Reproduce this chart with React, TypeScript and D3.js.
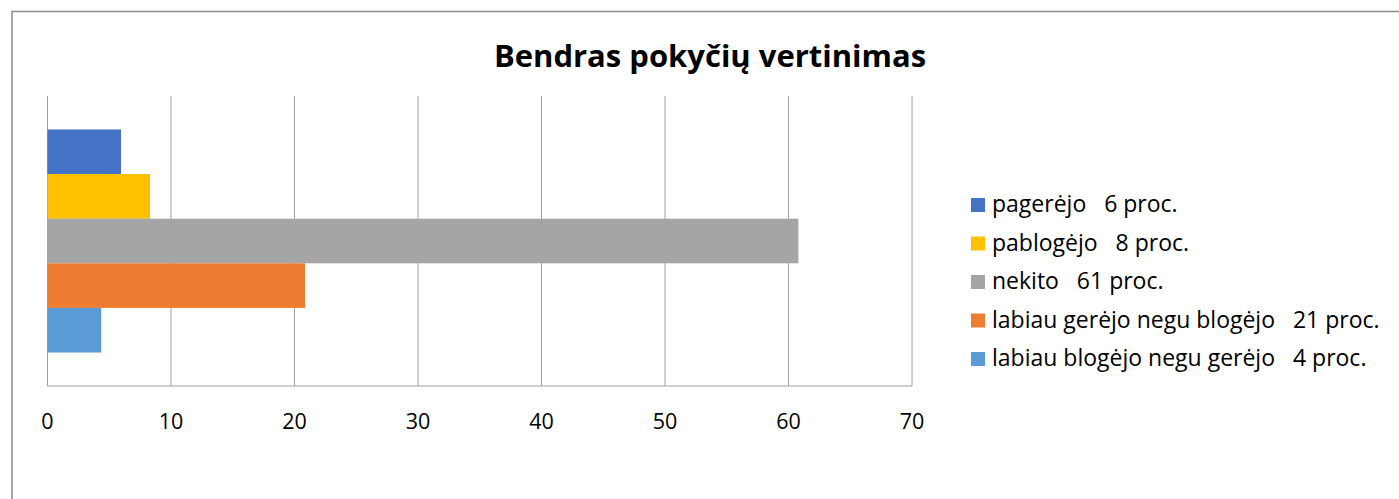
import React from 'react'
import * as d3 from 'd3'

const width = 1399
const height = 499
const plot = { left: 47.5, right: 912, top: 96, bottom: 386 }

const title = 'Bendras pokyčių vertinimas'
const categories = [
  'pagerėjo   6 proc.',
  'pablogėjo   8 proc.',
  'nekito   61 proc.',
  'labiau gerėjo negu blogėjo   21 proc.',
  'labiau blogėjo negu gerėjo   4 proc.',
]
const values = [5.95, 8.3, 60.8, 20.85, 4.35]
const colors = ['#4472C4', '#FFC000', '#A5A5A5', '#ED7D31', '#5B9BD5']
const ticks = [0, 10, 20, 30, 40, 50, 60, 70]

const font = '"Open Sans", sans-serif'
const gridColor = '#a0a0a0'

export default function App() {
  const x = d3.scaleLinear().domain([0, 70]).range([plot.left, plot.right])

  // one outer group, then the five series stacked inside it
  const outer = d3
    .scaleBand()
    .domain(['all'])
    .range([plot.top, plot.bottom])
    .paddingInner(0)
    .paddingOuter(0.15)

  const inner = d3
    .scaleBand()
    .domain(categories)
    .range([0, outer.bandwidth()])
    .padding(0)

  const legendY = d3
    .scalePoint()
    .domain(categories)
    .range([212, 366])

  return (
    <svg
      width={width}
      height={height}
      style={{ position: 'absolute', left: 0, top: 0, background: 'white' }}
    >
      <rect
        x={12}
        y={11.5}
        width={1400}
        height={500}
        fill="none"
        stroke="#8c8c8c"
        strokeWidth={1.5}
      />

      <text
        x={710}
        y={67}
        textAnchor="middle"
        fontFamily={font}
        fontWeight="bold"
        fontSize={31}
        fill="#000"
      >
        {title}
      </text>

      {ticks.map((t) => (
        <line
          key={'g' + t}
          x1={x(t)}
          x2={x(t)}
          y1={plot.top}
          y2={plot.bottom}
          stroke={gridColor}
          strokeWidth={1}
        />
      ))}
      <line
        x1={plot.left}
        x2={plot.right}
        y1={plot.bottom}
        y2={plot.bottom}
        stroke={gridColor}
        strokeWidth={1}
      />

      {categories.map((c, i) => (
        <rect
          key={c}
          x={x(0)}
          y={(outer('all') as number) + (inner(c) as number)}
          width={x(values[i]) - x(0)}
          height={inner.bandwidth()}
          fill={colors[i]}
        />
      ))}

      {ticks.map((t) => (
        <text
          key={'t' + t}
          x={x(t)}
          y={429}
          textAnchor="middle"
          fontFamily={font}
          fontSize={21.5}
          fill="#000"
        >
          {t}
        </text>
      ))}

      {categories.map((c, i) => (
        <g key={'l' + c}>
          <rect
            x={971}
            y={(legendY(c) as number) - 14}
            width={14}
            height={14}
            fill={colors[i]}
          />
          <text
            x={992}
            y={legendY(c)}
            fontFamily={font}
            fontSize={23}
            fill="#000"
            style={{ whiteSpace: 'pre' }}
          >
            {c}
          </text>
        </g>
      ))}
    </svg>
  )
}
